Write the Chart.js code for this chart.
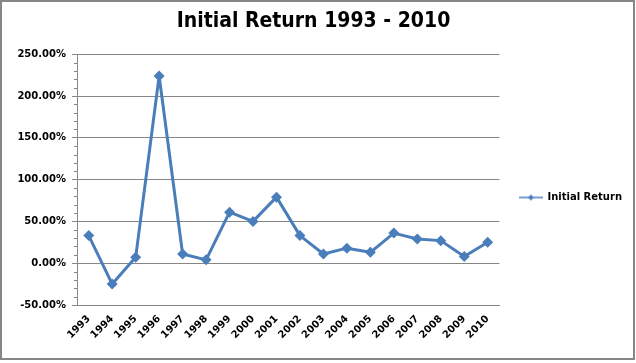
<!DOCTYPE html>
<html>
<head>
<meta charset="utf-8">
<script src="https://cdn.jsdelivr.net/npm/chart.js@4.4.1/dist/chart.umd.min.js"></script>
<style>
  html, body { margin: 0; padding: 0; background: #fff; }
  #wrap { width: 636px; height: 363px; position: relative; }
</style>
</head>
<body>
<div id="wrap"><canvas id="returnChart" width="636" height="363"></canvas></div>
<script>
// Données
const years = ['1993', '1994', '1995', '1996', '1997', '1998', '1999', '2000', '2001',
               '2002', '2003', '2004', '2005', '2006', '2007', '2008', '2009', '2010'];
const initialReturn = [33, -25, 7, 224, 11, 4, 61, 50, 79, 33, 11, 18, 13, 36, 29, 27, 8, 25];
const yTicks = [-50, 0, 50, 100, 150, 200, 250];

const blue = '#4a7ebb';
const grey = '#868686';
const labelFont = { family: "'DejaVu Sans', sans-serif", size: 10, weight: 'bold' };

// Marqueur de légende : ligne + losange
function legendMarker() {
    const c = document.createElement('canvas');
    c.width = 24; c.height = 10;
    const g = c.getContext('2d');
    g.strokeStyle = blue;
    g.lineWidth = 1.5;
    g.beginPath(); g.moveTo(0, 5); g.lineTo(24, 5); g.stroke();
    g.fillStyle = blue;
    g.beginPath(); g.moveTo(12, 2); g.lineTo(15, 5); g.lineTo(12, 8); g.lineTo(9, 5); g.closePath(); g.fill();
    return c;
}

// Cadre, position de la légende, graduations mineures
const frame = {
    id: 'frame',
    afterLayout(chart) {
        // légende centrée sous le titre, comme dans Excel
        chart.legend.top += 20;
        chart.legend.bottom += 20;
        chart.legend.left += 5;
        chart.legend.right += 5;
    },
    beforeDraw(chart) {
        const ctx = chart.ctx;
        ctx.save();
        ctx.fillStyle = '#fff';
        ctx.fillRect(0, 0, chart.width, chart.height);
        ctx.strokeStyle = grey;
        ctx.lineWidth = 2;
        ctx.strokeRect(1, 1, 633, 358);
        ctx.restore();
    },
    beforeDatasetsDraw(chart) {
        const y = chart.scales.y;
        const ctx = chart.ctx;
        ctx.save();
        ctx.strokeStyle = grey;
        ctx.lineWidth = 1;
        for (let v = yTicks[0]; v <= yTicks[yTicks.length - 1]; v += 10) {
            if (v % 50 === 0) continue;
            const py = Math.round(y.getPixelForValue(v)) + 0.5;
            ctx.beginPath();
            ctx.moveTo(y.right - 3, py);
            ctx.lineTo(y.right, py);
            ctx.stroke();
        }
        ctx.restore();
    }
};

const ctx = document.getElementById('returnChart').getContext('2d');
const chart = new Chart(ctx, {
    type: 'line',
    data: {
        labels: years,
        datasets: [{
            label: 'Initial Return',
            data: initialReturn,
            borderColor: blue,
            backgroundColor: blue,
            borderWidth: 3,
            borderJoinStyle: 'round',
            pointStyle: 'rectRot',
            pointRadius: 5.5,
            pointHoverRadius: 5.5,
            pointBorderWidth: 0,
            tension: 0
        }]
    },
    options: {
        responsive: false,
        animation: false,
        layout: { padding: { left: 0, right: 9, top: 0, bottom: 8 } },
        plugins: {
            title: {
                display: true,
                text: 'Initial Return 1993 - 2010',
                color: '#000',
                font: { family: "'DejaVu Sans Condensed', 'DejaVu Sans', sans-serif", size: 21, weight: 'bold' },
                padding: { top: 9, bottom: 20 }
            },
            legend: {
                position: 'right',
                labels: {
                    color: '#000',
                    font: labelFont,
                    usePointStyle: true,
                    pointStyleWidth: 23,
                    padding: 15,
                    generateLabels: (c) => [{
                        text: c.data.datasets[0].label,
                        pointStyle: legendMarker(),
                        fontColor: '#000',
                        datasetIndex: 0
                    }]
                }
            },
            tooltip: { enabled: false }
        },
        scales: {
            x: {
                offset: true,
                grid: { display: false, drawTicks: false },
                border: { color: grey, width: 1 },
                ticks: {
                    color: '#000',
                    font: labelFont,
                    minRotation: 45,
                    maxRotation: 45,
                    padding: 8,
                    autoSkip: false
                },
                afterFit: (s) => { s.height = 50; }
            },
            y: {
                min: yTicks[0],
                max: yTicks[yTicks.length - 1],
                afterBuildTicks: (s) => { s.ticks = yTicks.map(v => ({ value: v })); },
                grid: { color: grey, lineWidth: 1, tickLength: 5 },
                border: { color: grey, width: 1 },
                ticks: {
                    color: '#000',
                    font: labelFont,
                    padding: 6,
                    callback: (v) => v.toFixed(2) + '%'
                },
                afterFit: (s) => { s.width = 77; }
            }
        }
    },
    plugins: [frame]
});
</script>
</body>
</html>
